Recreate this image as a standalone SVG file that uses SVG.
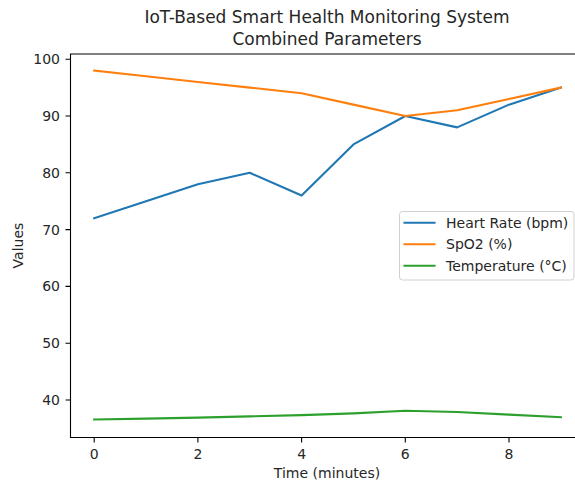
<svg xmlns="http://www.w3.org/2000/svg" width="575" height="483" viewBox="0 0 575 483">
<style>
text{font-family:"DejaVu Sans","Liberation Sans",sans-serif;fill:#262626;}
.title{font-size:17px;text-anchor:middle;}
.tick{font-size:14px;}
.yt{text-anchor:end;}
.xt{text-anchor:middle;}
.lab{font-size:14px;text-anchor:middle;}
.spine{stroke:#000;stroke-width:1.1;fill:none;stroke-linecap:square;}
.tm{stroke:#000;stroke-width:1.1;}
.series{fill:none;stroke-width:2.1;stroke-linejoin:round;stroke-linecap:square;}
.hr{stroke:#1f77b4;}
.sp{stroke:#ff7f0e;}
.tp{stroke:#2ca02c;}
.leg{font-size:14px;}
</style>
<rect width="575" height="483" fill="#fff"/>
<g id="title">
<text class="title" x="327" y="23">IoT-Based Smart Health Monitoring System</text>
<text class="title" x="327" y="45">Combined Parameters</text>
</g>
<g id="axes">
<path class="spine" d="M70.5,54 L70.5,437.5 L580,437.5 M70.5,54 L580,54"/>
<g id="yticks">
<path class="tm" d="M65.5,400H70.5M65.5,343.2H70.5M65.5,286.4H70.5M65.5,229.6H70.5M65.5,172.8H70.5M65.5,116H70.5M65.5,59.2H70.5"/>
<text class="tick yt" x="60" y="405">40</text>
<text class="tick yt" x="60" y="348.2">50</text>
<text class="tick yt" x="60" y="291.4">60</text>
<text class="tick yt" x="60" y="234.6">70</text>
<text class="tick yt" x="60" y="177.8">80</text>
<text class="tick yt" x="60" y="121">90</text>
<text class="tick yt" x="60" y="64.2">100</text>
</g>
<g id="xticks">
<path class="tm" d="M94.2,437.5V442.5M197.9,437.5V442.5M301.6,437.5V442.5M405.3,437.5V442.5M509,437.5V442.5"/>
<text class="tick xt" x="94.2" y="459">0</text>
<text class="tick xt" x="197.9" y="459">2</text>
<text class="tick xt" x="301.6" y="459">4</text>
<text class="tick xt" x="405.3" y="459">6</text>
<text class="tick xt" x="509" y="459">8</text>
</g>
<text class="lab" x="327" y="477.5">Time (minutes)</text>
<text class="lab" transform="translate(22.5,245.5) rotate(-90)">Values</text>
</g>
<g id="connectors">
<polyline id="heart-rate" class="series hr" points="94.2,218.24 146.05,201.2 197.9,184.16 249.75,172.8 301.6,195.52 353.45,144.4 405.3,116 457.15,127.36 509,104.64 560.85,87.6"/>
<polyline id="spo2" class="series sp" points="94.2,70.56 146.05,76.24 197.9,81.92 249.75,87.6 301.6,93.28 353.45,104.64 405.3,116 457.15,110.32 509,98.96 560.85,87.6"/>
<polyline id="temperature" class="series tp" points="94.2,419.5 146.05,418.6 197.9,417.6 249.75,416.4 301.6,415.1 353.45,413.4 405.3,410.8 457.15,412 509,414.6 560.85,417.2"/>
</g>
<g id="legend">
<rect x="399.5" y="211.5" width="174.5" height="68.5" rx="3" fill="#fff" fill-opacity="0.8" stroke="#d0d0d0" stroke-width="1"/>
<line class="series hr" x1="404.5" y1="222.7" x2="434.5" y2="222.7"/>
<line class="series sp" x1="404.5" y1="244.3" x2="434.5" y2="244.3"/>
<line class="series tp" x1="404.5" y1="265.7" x2="434.5" y2="265.7"/>
<text class="leg" x="446" y="227.8">Heart Rate (bpm)</text>
<text class="leg" x="446" y="249.4">SpO2 (%)</text>
<text class="leg" x="446" y="270.8">Temperature (°C)</text>
</g>
</svg>
